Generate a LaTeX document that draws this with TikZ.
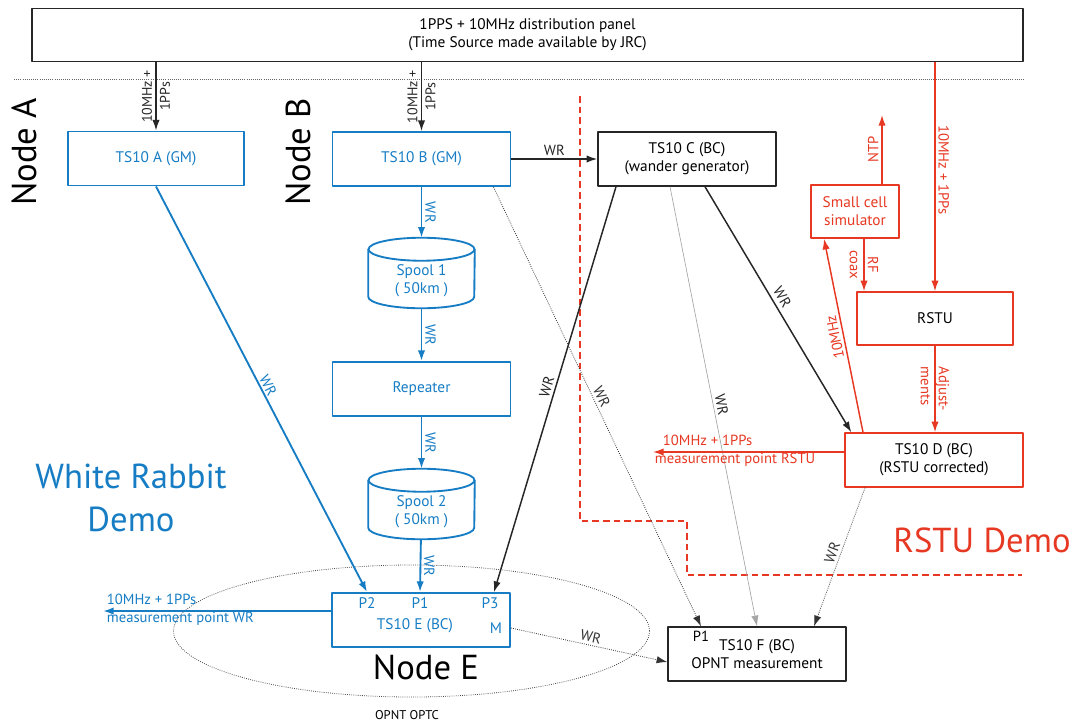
\documentclass[tikz,border=0pt]{standalone}
\usepackage{fontspec}
\setmainfont{PT Sans}
\usetikzlibrary{shapes.geometric,arrows.meta}

\definecolor{wrblue}{RGB}{22,125,196}
\definecolor{rstured}{RGB}{230,56,34}

\def\pu{0.75pt}
\def\boxwidth{178}
\def\boxheight{54}

\begin{document}
\begin{tikzpicture}[x=\pu, y=-\pu, line join=bevel,
>={Latex[length=8pt,width=5.5pt]},
font=\fontsize{11.5}{13.5}\selectfont,
box/.style={draw=black!85, line width=1.1pt, align=center, inner sep=0pt,
  minimum width=\boxwidth*\pu, minimum height=\boxheight*\pu},
wrbox/.style={box, draw=wrblue, text=wrblue, line width=1.4pt},
rsbox/.style={box, draw=rstured},
spool/.style={inner sep=0pt, minimum width=106*\pu, minimum height=70*\pu},
wrline/.style={->, wrblue, line width=1.4pt},
rsline/.style={->, rstured, line width=1.1pt},
bkline/.style={->, black!85, line width=1.1pt},
dotline/.style={->, black!80, densely dotted, line width=0.6pt},
lbl/.style={font=\fontsize{11}{13.5}\selectfont, inner sep=2pt},
bigtext/.style={font=\fontsize{26}{32}\selectfont, inner sep=0pt},
]
\useasboundingbox (0,0) rectangle (1077,725);

% time source
\node[box, minimum width=991*\pu, minimum height=53*\pu] (panel) at (527.5,35)
  {1PPS + 10MHz distribution panel\\(Time Source made available by JRC)};
\draw[black!60, densely dotted, line width=0.6pt] (14,79) -- (1024,79);

% white rabbit chain
\node[wrbox, minimum width=176*\pu] (tsA) at (156,158.5) {TS10 A (GM)};
\node[wrbox] (tsB) at (421.5,159) {TS10 B (GM)};
\node[spool] (spool1) at (421.5,273) {};
\node[text=wrblue, align=center] (spool1txt) at (421.5,281) {Spool 1\\( 50km )};
\node[wrbox] (rep) at (421.5,389) {Repeater};
\node[spool] (spool2) at (421.5,504) {};
\node[text=wrblue, align=center] (spool2txt) at (421.5,511.5) {Spool 2\\( 50km )};
\node[wrbox] (tsE) at (421,620) {};
\node[text=wrblue] (tsEname) at (415,626) {TS10 E (BC)};
\node[text=wrblue] (p2) at (367,603) {P2};
\node[text=wrblue] (p1) at (420,603) {P1};
\node[text=wrblue] (p3) at (490,603) {P3};
\node[text=wrblue] (pm) at (496,628) {M};

% fibre spools
\foreach \sp in {spool1,spool2}{
  \draw[wrblue, line width=1.4pt] ([yshift=-11.5*\pu]\sp.north west) -- ([yshift=11.5*\pu]\sp.south west)
    arc[start angle=180, end angle=360, x radius=53*\pu, y radius=11.5*\pu]
    -- ([yshift=-11.5*\pu]\sp.north east);
  \draw[wrblue, line width=1.4pt] ([yshift=-11.5*\pu]\sp.north) ellipse [x radius=53*\pu, y radius=11.5*\pu];
}

% wander generator + measurement
\node[box] (tsC) at (687,159) {TS10 C (BC)\\(wander generator)};
\node[box] (tsF) at (757,654) {TS10 F (BC)\\OPNT measurement};
\node[lbl] (fp1) at (701,636) {P1};

% rstu side
\node[rsbox, text=rstured, minimum width=88*\pu, minimum height=53*\pu] (scell) at (855,211.5) {Small cell\\simulator};
\node[rsbox, minimum width=156*\pu, minimum height=53*\pu] (rstu) at (935,318.5) {RSTU};
\node[rsbox] (tsD) at (934,460) {TS10 D (BC)\\(RSTU corrected)};

% titles
\node[bigtext, rotate=90] (nodeA) at (24,152) {Node A};
\node[bigtext, rotate=90] (nodeB) at (298,152) {Node B};
\node[bigtext] (nodeE) at (426,667) {Node E};
\node[bigtext, text=wrblue, align=center] (wrdemo) at (131,498) {White Rabbit\\Demo};
\node[bigtext, text=rstured] (rsdemo) at (982,540) {RSTU Demo};
\node[ellipse, draw=black!70, densely dotted, line width=0.6pt,
  minimum width=476*\pu, minimum height=132*\pu] (optc) at (411.5,631) {};
\node[lbl, font=\fontsize{9.5}{11}\selectfont] (optcname) at (407,715) {OPNT OPTC};

% demo border
\draw[rstured, line width=1.5pt, dash pattern=on 5pt off 3pt]
  (580,96) -- (580,521) -- (687,521) -- (687,575) -- (1022,575);

% free ends
\coordinate (ntpend) at (882,115);
\coordinate (rsmeas) at (653,452);
\coordinate (wrmeas) at (103,611);

% distribution
\draw[bkline] (panel.south -| tsA) -- (tsA) node[lbl, font=\fontsize{10.5}{13.5}\selectfont, rotate=90, align=center, pos=0.5] {10MHz +\\1PPs};
\draw[bkline] (panel.south -| tsB) -- (tsB) node[lbl, font=\fontsize{10.5}{13.5}\selectfont, rotate=90, align=center, pos=0.5] {10MHz +\\1PPs};
\draw[rsline] (panel.south -| rstu) -- (rstu) node[lbl, text=rstured, rotate=-90, anchor=south, pos=0.47] {10MHz + 1PPs};

% WR links
\draw[bkline] (tsB) -- (tsC) node[lbl, above, pos=0.5] {WR};
\draw[wrline] (tsB) -- (spool1) node[lbl, text=wrblue, rotate=-90, anchor=south, pos=0.5] {WR};
\draw[wrline] (spool1) -- (rep) node[lbl, text=wrblue, rotate=-90, anchor=south, pos=0.5] {WR};
\draw[wrline] (rep) -- (spool2) node[lbl, text=wrblue, rotate=-90, anchor=south, pos=0.5] {WR};
\draw[wrline] (spool2) -- (tsE.north -| p1) node[lbl, text=wrblue, rotate=-90, anchor=south, pos=0.5] {WR};
\draw[wrline] (tsA.south) -- (tsE.north -| p2) node[lbl, text=wrblue, sloped, above, pos=0.5, inner sep=1pt] {WR};
\draw[bkline] ([xshift=-71*\pu]tsC.south) -- ([xshift=4*\pu]tsE.north -| p3) node[lbl, sloped, above, pos=0.5] {WR};
\draw[bkline] ([xshift=18*\pu]tsC.south) -- ([xshift=7*\pu]tsD.north west) node[lbl, sloped, above, pos=0.47, inner sep=3pt] {WR};
\draw[->, black!35, line width=0.5pt] ([xshift=-17*\pu]tsC.south) -- (tsF.north) node[lbl, text=black!85, sloped, above, pos=0.5] {WR};
\draw[dotline] ([xshift=-18*\pu]tsB.south east) -- (tsF.north -| fp1) node[lbl, sloped, above, pos=0.485] {WR};
\draw[dotline] ([xshift=-69*\pu]tsD.south) -- ([xshift=57*\pu]tsF.north) node[lbl, sloped, above, pos=0.49] {WR};
\draw[dotline] (tsE.east |- pm) -- ([yshift=-8*\pu]tsF.west) node[lbl, sloped, above, pos=0.5] {WR};

% rstu loop
\draw[rsline] ([xshift=27*\pu]scell.north) -- (ntpend) node[lbl, text=rstured, rotate=90, anchor=south, pos=0.5] {NTP};
\draw[rsline] ([xshift=9*\pu]scell.south) -- ([xshift=9*\pu]scell.south |- rstu.north) node[lbl, text=rstured, rotate=-90, align=center, pos=0.5] {RF\\coax};
\draw[rsline] (rstu.south) -- (rstu.south |- tsD.north) node[lbl, text=rstured, rotate=-90, align=left, pos=0.5] {Adjust-\\ments};
\draw[rsline] ([xshift=-71*\pu]tsD.north) -- ([xshift=-31*\pu]scell.south) node[lbl, text=rstured, sloped, allow upside down, above, pos=0.5] {10MHz};

% measurement points
\draw[rsline] (tsD.west |- rsmeas) -- (rsmeas);
\node[lbl, text=rstured, align=left, anchor=west] (rsmeastext) at (652,450.5) {\hspace*{6pt}10MHz + 1PPs\\measurement point RSTU};
\draw[wrline] (tsE.west |- wrmeas) -- (wrmeas);
\node[lbl, text=wrblue, align=left, anchor=west] (wrmeastext) at (104,610) {10MHz + 1PPs\\measurement point WR};
\end{tikzpicture}
\end{document}
